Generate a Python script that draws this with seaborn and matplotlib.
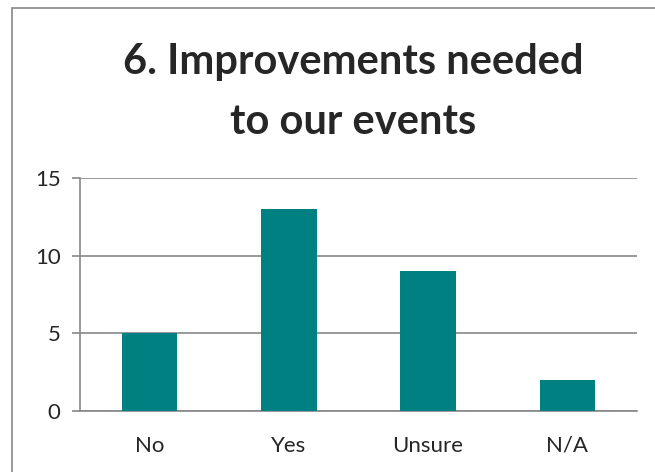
import numpy as np
import pandas as pd
import matplotlib
matplotlib.use("Agg")
import matplotlib.pyplot as plt
import matplotlib.patches as patches
import seaborn as sns

# data
categories = ["No", "Yes", "Unsure", "N/A"]
counts = [5, 13, 9, 2]
title = "6. Improvements needed\nto our events"

sns.set_style("white")
plt.rcParams["font.family"] = ["Lato", "DejaVu Sans"]

df = pd.DataFrame({"answer": categories, "count": counts})

fig = plt.figure(figsize=(6.55, 4.72), dpi=100)
ax = fig.add_axes([80 / 655, 1 - 411 / 472, (637 - 80) / 655, (411 - 178) / 472])

sns.barplot(data=df, x="answer", y="count", color="#008080", width=0.4,
            saturation=1, linewidth=0, ax=ax, zorder=3)

gray = "#888888"
ax.set_xlim(-0.5, len(categories) - 0.5)
ax.set_ylim(0, 15)
ax.set_yticks([0, 5, 10, 15])
ax.yaxis.grid(True, color=gray, linewidth=1.2, zorder=0)
ax.set_axisbelow(True)
ax.set_xlabel("")
ax.set_ylabel("")

for s in ["top", "right"]:
    ax.spines[s].set_visible(False)
for s in ["left", "bottom"]:
    ax.spines[s].set_color(gray)
    ax.spines[s].set_linewidth(1.2)

# excel-style ticks between categories
ax.set_xticks(np.arange(-0.5, len(categories), 1.0), minor=True)
ax.tick_params(axis="x", which="major", length=0, pad=18, labelsize=16)
ax.tick_params(axis="x", which="minor", length=6, width=1.2, color=gray, direction="out")
ax.tick_params(axis="y", length=6, width=1.2, color=gray, direction="out",
               labelsize=16, pad=8, left=True)

fig.text(353 / 655, 1 - 92 / 472, title, ha="center", va="center",
         fontsize=30, fontweight="bold", linespacing=1.7)

# outer chart frame (cropped at right/bottom)
frame = patches.Rectangle((12 / 655, -0.1), 1.2, 1 - 8 / 472 + 0.1,
                          transform=fig.transFigure, fill=False,
                          edgecolor=gray, linewidth=1.2, clip_on=False)
fig.patches.append(frame)

fig.savefig("out.png", dpi=100)
